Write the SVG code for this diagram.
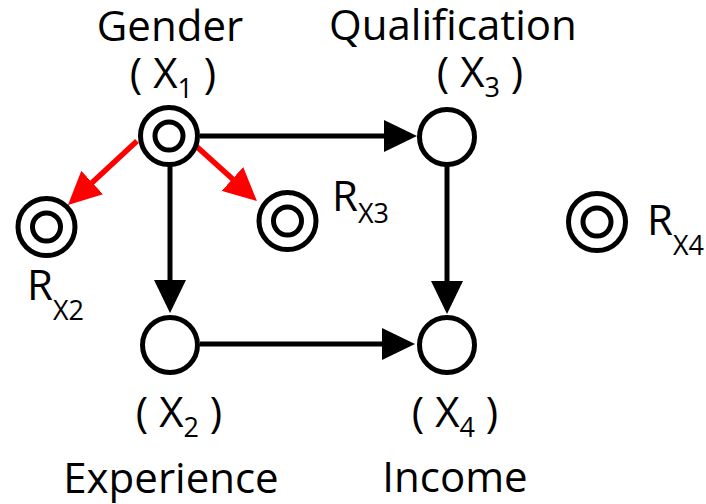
<svg xmlns="http://www.w3.org/2000/svg" width="706" height="504" viewBox="0 0 706 504">
<style>
text{font-family:"Open Sans","Noto Sans",sans-serif;font-size:42px;fill:#000}
.sub{font-size:27px}
.c{fill:#fff;stroke:#000;stroke-width:5}
.e{stroke:#000;stroke-width:5;fill:none}
.r{stroke:#f00;stroke-width:5.5;fill:none}
</style>
<defs>
<marker id="ab" viewBox="0 0 33 32" markerWidth="33" markerHeight="32" refX="8" refY="16" markerUnits="userSpaceOnUse" orient="auto"><path d="M0,0 L33,16 L0,32 Z" fill="#000"/></marker>
<marker id="ar" viewBox="0 0 33 32" markerWidth="33" markerHeight="32" refX="8" refY="16" markerUnits="userSpaceOnUse" orient="auto"><path d="M0,0 L33,16 L0,32 Z" fill="#f00"/></marker>
</defs>
<g id="connectors">
<path class="e" d="M200,136 L392,136" marker-end="url(#ab)"/>
<path class="e" d="M200,344 L390,344" marker-end="url(#ab)"/>
<path class="e" d="M170,166 L170,288" marker-end="url(#ab)"/>
<path class="e" d="M447,166 L447,289" marker-end="url(#ab)"/>
<path class="r" d="M137,141 L86.3,188" marker-end="url(#ar)"/>
<path class="r" d="M196,146 L238.4,184.3" marker-end="url(#ar)"/>
</g>
<g id="x1">
<circle class="c" cx="169" cy="136" r="28.5"/>
<circle class="c" cx="169" cy="136" r="14"/>
<text x="170" y="41" text-anchor="middle">Gender</text>
<text x="173" y="88" text-anchor="middle">( X<tspan class="sub" dy="10">1</tspan><tspan dy="-10"> )</tspan></text>
</g>
<g id="x3">
<circle class="c" cx="447" cy="137" r="27.5"/>
<text x="453" y="40" text-anchor="middle">Qualification</text>
<text x="480" y="87" text-anchor="middle">( X<tspan class="sub" dy="10">3</tspan><tspan dy="-10"> )</tspan></text>
</g>
<g id="x2">
<circle class="c" cx="170" cy="345" r="27.5"/>
<text x="179" y="427" text-anchor="middle">( X<tspan class="sub" dy="10">2</tspan><tspan dy="-10"> )</tspan></text>
<text x="171" y="493" text-anchor="middle">Experience</text>
</g>
<g id="x4">
<circle class="c" cx="447" cy="345" r="27.5"/>
<text x="455" y="427" text-anchor="middle">( X<tspan class="sub" dy="10">4</tspan><tspan dy="-10"> )</tspan></text>
<text x="455" y="492" text-anchor="middle">Income</text>
</g>
<g id="rx2">
<circle class="c" cx="46.5" cy="227" r="28.5"/>
<circle class="c" cx="46.5" cy="227" r="14"/>
<text x="27" y="300">R<tspan class="sub" dy="20">X2</tspan></text>
</g>
<g id="rx3">
<circle class="c" cx="287.5" cy="221" r="28.5"/>
<circle class="c" cx="287.5" cy="221" r="14"/>
<text x="332" y="211">R<tspan class="sub" dy="12">X3</tspan></text>
</g>
<g id="rx4">
<circle class="c" cx="597" cy="222" r="28.5"/>
<circle class="c" cx="597" cy="222" r="14"/>
<text x="647" y="235">R<tspan class="sub" dy="20">X4</tspan></text>
</g>
</svg>
